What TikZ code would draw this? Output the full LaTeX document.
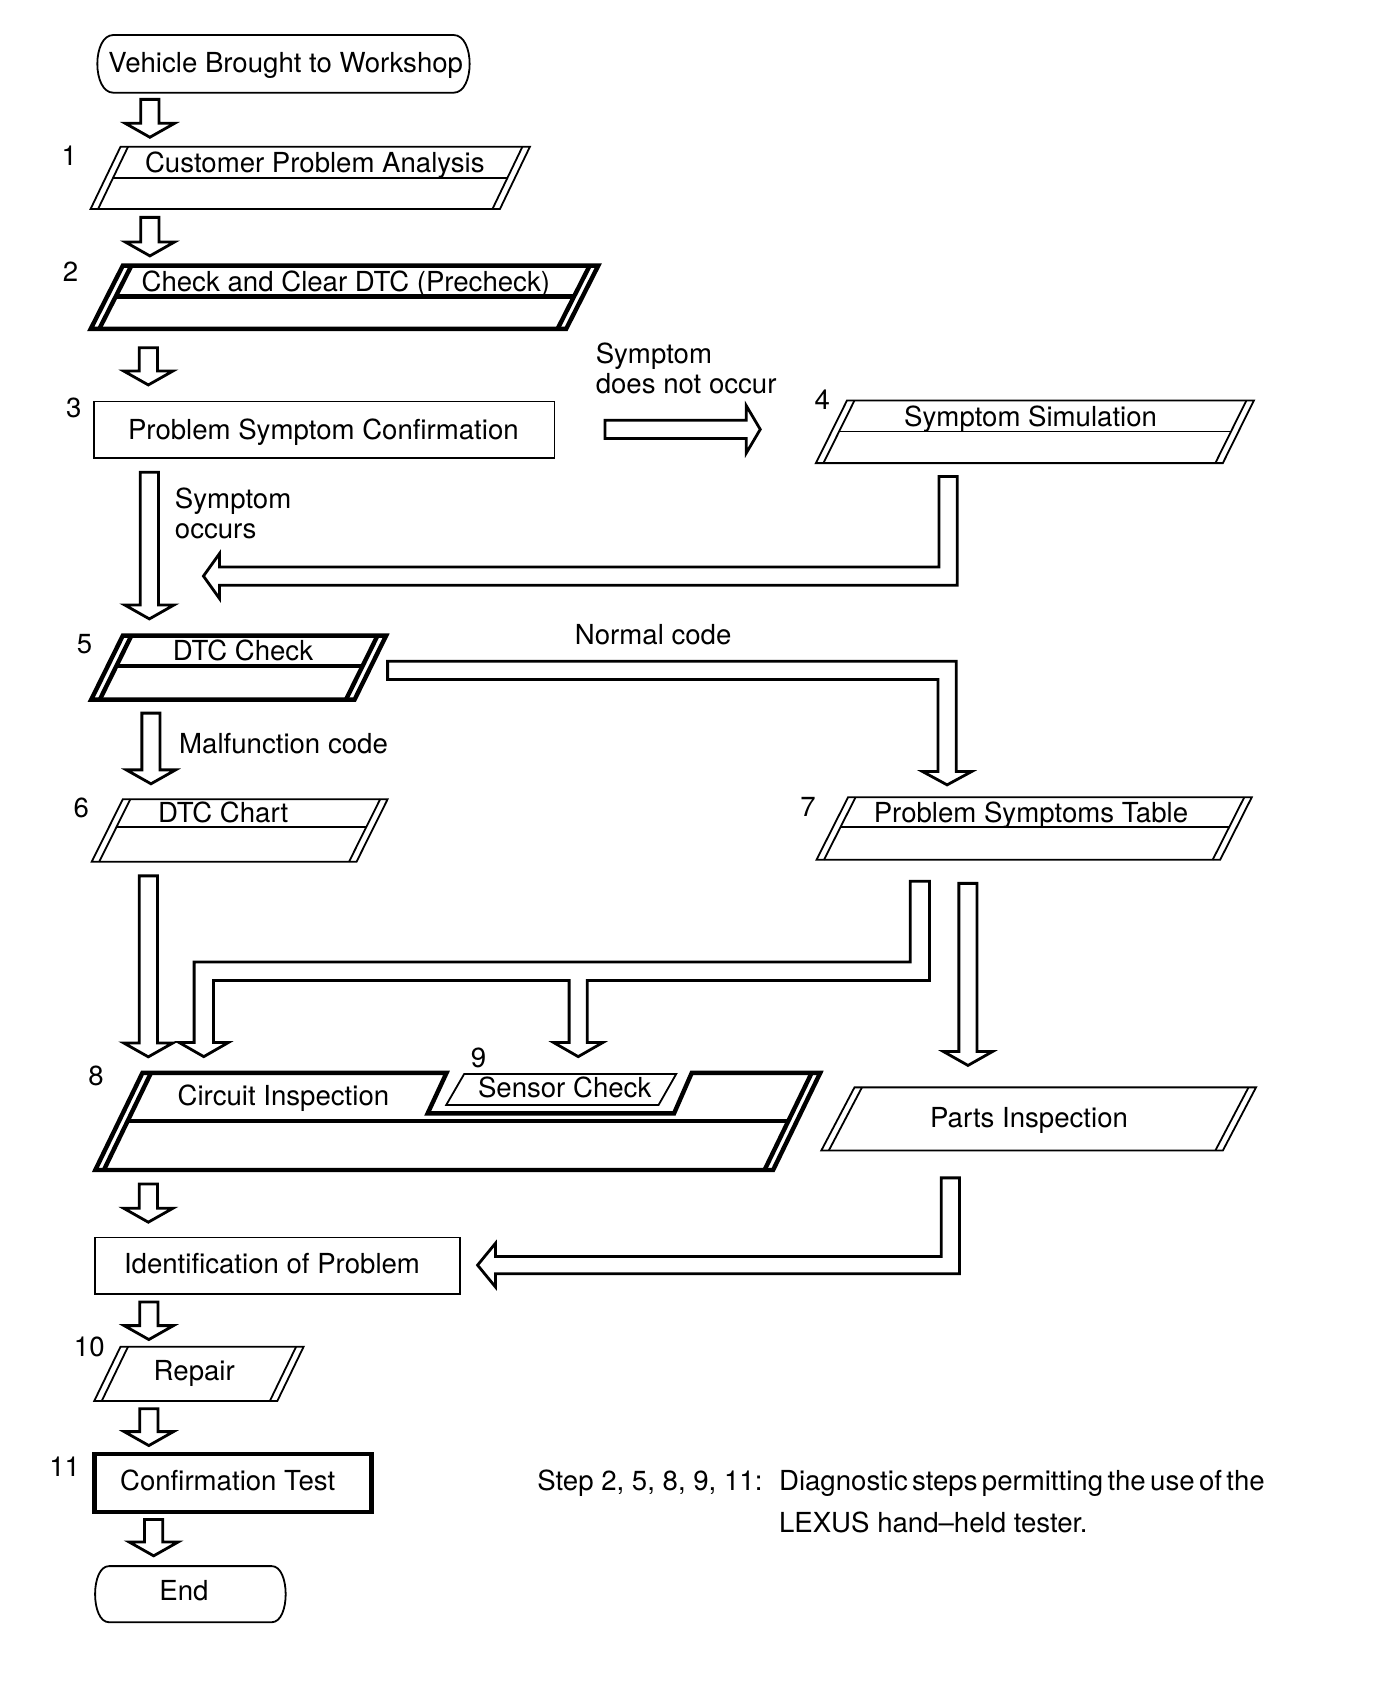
\documentclass[tikz,border=0pt]{standalone}
\usepackage{fontspec}
\setmainfont{TeX Gyre Heros}
\usetikzlibrary{calc}
\newcommand\hdown[2]{\draw[harrow] ($(#1)+(-8.5,0)$) -- ($(#1)+(8.5,0)$) -- ($(#2)+(8.5,-13)$) -- ($(#2)+(23,-13)$) -- (#2) -- ($(#2)+(-23,-13)$) -- ($(#2)+(-8.5,-13)$) -- cycle;}
\newcommand\pgram[8]{%
  \draw[#1] (#2,#4) -- (#3,#4) -- ({#3-#6},#5) -- ({#2-#6},#5) -- cycle;
  \draw[#1] ({#2+#8},#4) -- ({#2+#8-#6},#5);
  \draw[#1] ({#3-#8},#4) -- ({#3-#8-#6},#5);
  \ifdim #7pt>0pt
    \pgfmathsetmacro\pgfr{#6*(#7-#4)/(#5-#4)}%
    \draw[#1] ({#2+#8-\pgfr},#7) -- ({#3-#8-\pgfr},#7);
  \fi}
\newcommand\capsule[5]{%
  \draw[thinl] ({#1+#5},#2) -- ({#3-#5},#2) .. controls ({#3+#5/3},#2) and ({#3+#5/3},#4) .. ({#3-#5},#4) -- ({#1+#5},#4) .. controls ({#1-#5/3},#4) and ({#1-#5/3},#2) .. ({#1+#5},#2) -- cycle;}
\begin{document}
\begin{tikzpicture}[x=0.53538pt,y=-0.53538pt,
  thinl/.style={line width=0.9pt},
  thickl/.style={line width=2.2pt},
  harrow/.style={line width=1.4pt, line join=miter, fill=white, draw=black},
  txt/.style={font=\fontsize{13.8}{15}\selectfont, inner sep=0pt, anchor=base},
  txtw/.style={txt, anchor=base west}]
\fill[white] (0,0) rectangle (1300,1572.7);
\useasboundingbox (0,0) rectangle (1300,1572.7);

% ---------- boxes ----------
\capsule{90.9}{32.7}{438.6}{86.6}{15}
\pgram{thinl}{112.6}{494.9}{137}{195.2}{28}{166.5}{7}
\pgram{thickl}{114.7}{558.7}{248.1}{307.2}{30}{277}{8}
\draw[thinl] (87.6,375) rectangle (517.8,428);
\pgram{thinl}{791}{1171}{374}{432.5}{29}{403}{7}
\pgram{thickl}{114.7}{360.6}{593.6}{653.4}{29.5}{622}{8}
\pgram{thinl}{114.7}{362}{746.4}{804.7}{29}{772.5}{7}
\pgram{thinl}{792}{1169}{744.6}{803}{29.5}{772.5}{7}
% box 8 with notch
\draw[thickl, line join=miter] (133,1002) -- (417,1002) -- (399.4,1039.8) -- (629.5,1039.8) -- (646,1002) -- (766,1002) -- (722,1092.7) -- (89,1092.7) -- cycle;
\draw[thickl] (141,1002) -- (97,1092.7);
\draw[thickl] (758,1002) -- (714,1092.7);
\draw[thickl] (119.2,1047) -- (736.2,1047);
\draw[thinl] (433.5,1003) -- (631.5,1003) -- (615,1032) -- (416.7,1032) -- cycle;
\pgram{thinl}{798}{1173}{1015.5}{1074.5}{31}{0}{7}
\draw[thinl] (88.8,1155.7) rectangle (429.4,1208.2);
\pgram{thinl}{112.5}{283.5}{1257.8}{1308.4}{24.5}{0}{7}
\draw[thickl] (88.4,1357.9) rectangle (346.9,1412);
\capsule{88.8}{1462.6}{266.8}{1515}{13}

% ---------- texts ----------
\node[txt] (t0) at (266.8,68) {Vehicle Brought to Workshop};
\node[txt] (n1) at (64.6,155) {1};
\node[txt] (t1) at (294,161.5) {Customer Problem Analysis};
\node[txt] (n2) at (66,263) {2};
\node[txt] (t2) at (323,272) {Check and Clear DTC (Precheck)};
\node[txt] (n3) at (69,390) {3};
\node[txt] (t3) at (302,410.5) {Problem Symptom Confirmation};
\node[txtw] (l1) at (556,339.5) {Symptom};
\node[txtw] (l2) at (556,367.5) {does not occur};
\node[txt] (n4) at (768,382.5) {4};
\node[txt] (t4) at (962.5,398) {Symptom Simulation};
\node[txtw] (l3) at (163,475) {Symptom};
\node[txtw] (l4) at (163,503) {occurs};
\node[txt] (n5) at (79,610) {5};
\node[txt] (t5) at (227,617) {DTC Check};
\node[txt] (l5) at (610,602) {Normal code};
\node[txtw] (l6) at (167,704) {Malfunction code};
\node[txt] (n6) at (76,763.6) {6};
\node[txt] (t6) at (208.4,768) {DTC Chart};
\node[txt] (n7) at (754.7,762.6) {7};
\node[txt] (t7) at (962.8,768) {Problem Symptoms Table};
\node[txt] (n8) at (89.6,1014) {8};
\node[txt] (n9) at (447,997) {9};
\node[txt] (t8) at (264.7,1032) {Circuit Inspection};
\node[txt] (t9) at (527.4,1025) {Sensor Check};
\node[txt] (tp) at (961,1053) {Parts Inspection};
\node[txt] (ti) at (254,1189.5) {Identification of Problem};
\node[txt] (n10) at (83.4,1266.5) {10};
\node[txt] (t10) at (181.4,1289.7) {Repair};
\node[txt] (n11) at (60.4,1378.8) {11};
\node[txt] (t11) at (212.6,1392) {Confirmation Test};
\node[txt] (te) at (171.8,1494.8) {End};
\node[txtw] (f1) at (501.5,1392) {Step 2, 5, 8, 9, 11:};
\node[txtw] (f2) at (727.2,1392) {\spaceskip=2.2pt plus 1pt Diagnostic steps permitting the use of the};
\node[txtw] (f3) at (727.2,1431) {LEXUS hand–held tester.};

% ---------- arrow end points ----------
\coordinate (a1s) at (140,92.8);   \coordinate (a1e) at (140,128.2);
\coordinate (a2s) at (140,203);    \coordinate (a2e) at (140,239);
\coordinate (a3s) at (138.5,324.7);\coordinate (a3e) at (138.5,359.5);
\coordinate (a4s) at (139.5,441);  \coordinate (a4e) at (139.5,578);
\coordinate (a5s) at (141,666);    \coordinate (a5e) at (141,732);
\coordinate (a6s) at (138.5,818);  \coordinate (a6e) at (138.5,987);
\coordinate (a7s) at (904,825);    \coordinate (a7e) at (904,995);
\coordinate (a8s) at (138.5,1105.7);\coordinate (a8e) at (138.5,1141.4);
\coordinate (a9s) at (139,1216);   \coordinate (a9e) at (139,1251);
\coordinate (a10s) at (139,1315.7);\coordinate (a10e) at (139,1350);
\coordinate (a11s) at (143.5,1419);\coordinate (a11e) at (143.5,1453);

\hdown{a1s}{a1e}
\hdown{a2s}{a2e}
\hdown{a3s}{a3e}
\hdown{a4s}{a4e}
\hdown{a5s}{a5e}
\hdown{a6s}{a6e}
\hdown{a7s}{a7e}
\hdown{a8s}{a8e}
\hdown{a9s}{a9e}
\hdown{a10s}{a10e}
\hdown{a11s}{a11e}

% symptom does not occur -> simulation
\draw[harrow] (565,392.5) -- (697,392.5) -- (697,379) -- (710,401) -- (697,423) -- (697,409.5) -- (565,409.5) -- cycle;
% simulation -> back to main column
\draw[harrow] (877,445) -- (894,445) -- (894,546.5) -- (205,546.5) -- (205,559) -- (190,538) -- (205,517) -- (205,529.5) -- (877,529.5) -- cycle;
% normal code
\draw[harrow] (362,617.5) -- (893,617.5) -- (893,720.5) -- (907.5,720.5) -- (884.5,733) -- (861.5,720.5) -- (876,720.5) -- (876,634.5) -- (362,634.5) -- cycle;
% problem symptoms table -> circuit inspection / sensor check
\draw[harrow] (850,823) -- (868,823) -- (868,915.7) -- (548.5,915.7) -- (548.5,973.6) -- (563,973.6) -- (540,986.8) -- (517,973.6) -- (531.5,973.6) -- (531.5,915.7) -- (199.3,915.7) -- (199.3,973.6) -- (213.3,973.6) -- (190.3,986.8) -- (167.3,973.6) -- (181.3,973.6) -- (181.3,898.5) -- (850,898.5) -- cycle;
% parts inspection -> identification
\draw[harrow] (879,1100) -- (896,1100) -- (896,1189.5) -- (462.8,1189.5) -- (462.8,1202) -- (446,1181.5) -- (462.8,1161) -- (462.8,1173.5) -- (879,1173.5) -- cycle;
\end{tikzpicture}
\end{document}
